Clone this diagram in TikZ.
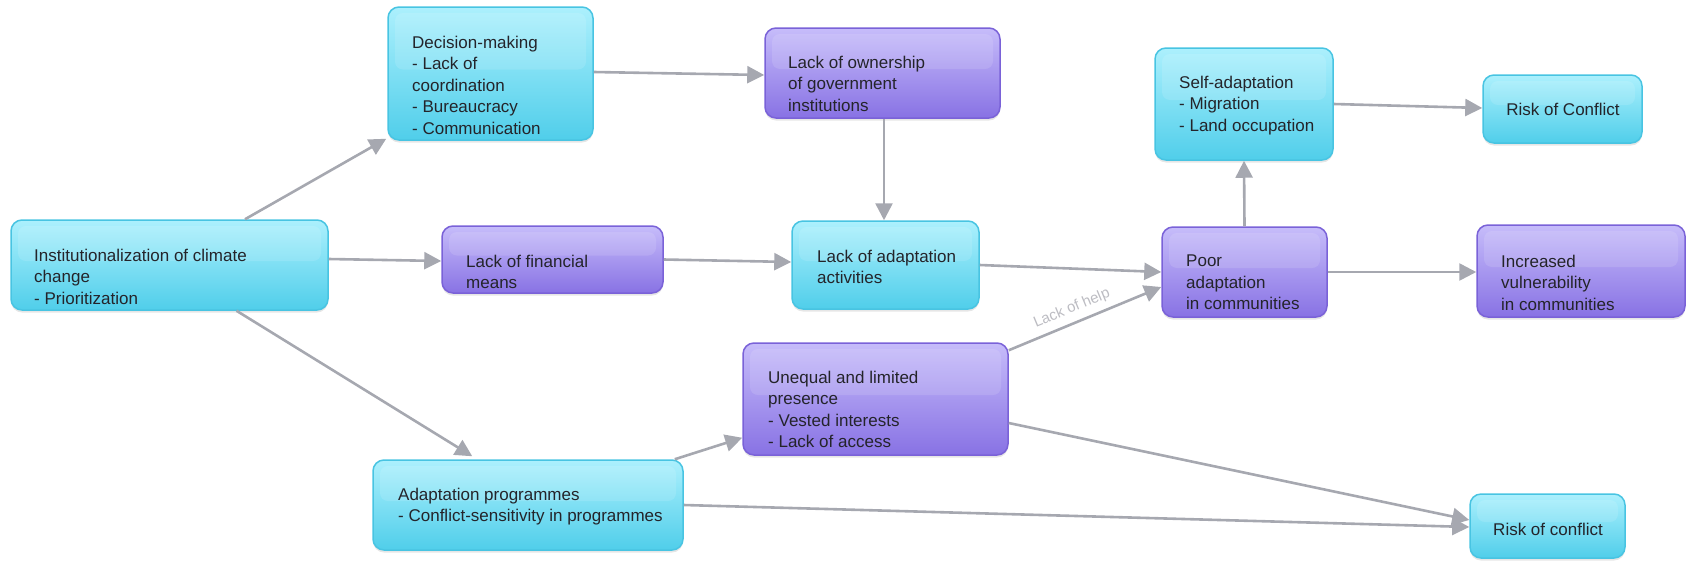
\documentclass[tikz,border=0pt]{standalone}
\usepackage{fontspec}
\setmainfont{Liberation Sans}
\usetikzlibrary{arrows.meta,calc,shadows}

\definecolor{cyTop}{RGB}{172,240,253}
\definecolor{cyBot}{RGB}{80,206,234}
\definecolor{cyLine}{RGB}{72,196,226}
\definecolor{puTop}{RGB}{198,188,250}
\definecolor{puBot}{RGB}{136,114,228}
\definecolor{puLine}{RGB}{122,98,216}
\definecolor{arrowgray}{RGB}{166,168,176}
\definecolor{ink}{RGB}{36,36,42}
\definecolor{helpgray}{RGB}{188,188,194}

\tikzset{
  box/.style={rounded corners=11pt, line width=1.5pt, inner sep=0pt,
    drop shadow={opacity=0.2, shadow xshift=0pt, shadow yshift=-2.5pt},
    path picture={\fill[white, opacity=0.12, rounded corners=8pt]
      ([xshift=7pt,yshift=-6pt]path picture bounding box.north west) rectangle
      ([xshift=-7pt,yshift=4pt]path picture bounding box.east);}},
  cybox/.style={box, draw=cyLine, top color=cyTop, bottom color=cyBot},
  pubox/.style={box, draw=puLine, top color=puTop, bottom color=puBot},
  txt/.style={font=\fontsize{17pt}{21.5pt}\selectfont, align=left,
    inner sep=0pt, text=ink, anchor=north west},
  link/.style={draw=arrowgray, line width=2.6pt,
    -{Triangle[length=17pt,width=17pt]}},
}

\begin{document}
\begin{tikzpicture}[x=1pt, y=-1pt]
\useasboundingbox (0,0) rectangle (1686,563);

% boxes
\node[cybox, minimum width=317pt, minimum height=90pt]  (inst)  at (169.5,265) {};
\node[cybox, minimum width=205pt, minimum height=133pt] (dec)   at (490.5,73.5) {};
\node[pubox, minimum width=235pt, minimum height=90pt]  (own)   at (882.5,73) {};
\node[pubox, minimum width=221pt, minimum height=67pt]  (fin)   at (552.5,259.5) {};
\node[cybox, minimum width=187pt, minimum height=88pt]  (act)   at (885.5,265) {};
\node[pubox, minimum width=165pt, minimum height=90pt]  (poor)  at (1244.5,272) {};
\node[cybox, minimum width=178pt, minimum height=112pt] (self)  at (1244,104) {};
\node[cybox, minimum width=159pt, minimum height=68pt]  (riskA) at (1562.5,109) {};
\node[pubox, minimum width=208pt, minimum height=92pt]  (vuln)  at (1581,271) {};
\node[pubox, minimum width=265pt, minimum height=112pt] (uneq)  at (875.5,399) {};
\node[cybox, minimum width=310pt, minimum height=90pt]  (prog)  at (528,505) {};
\node[cybox, minimum width=155pt, minimum height=64pt]  (riskB) at (1547.5,526) {};

% texts
\node[txt] (inst-t) at (34,248.6)   {Institutionalization of climate\\change\\- Prioritization};
\node[txt] (dec-t)  at (412,35.6)   {Decision-making\\- Lack of\\coordination\\- Bureaucracy\\- Communication};
\node[txt] (own-t)  at (788,55.6)   {Lack of ownership\\of government\\institutions};
\node[txt] (fin-t)  at (466,254.6)  {Lack of financial\\means};
\node[txt] (act-t)  at (817,249.6)  {Lack of adaptation\\activities};
\node[txt] (poor-t) at (1186,254.6) {Poor\\adaptation\\in communities};
\node[txt] (self-t) at (1179,75.6)  {Self-adaptation\\- Migration\\- Land occupation};
\node[txt, anchor=center] (riskA-t) at (1563,109) {Risk of Conflict};
\node[txt] (vuln-t) at (1501,254.6) {Increased\\vulnerability\\in communities};
\node[txt] (uneq-t) at (768,370.6)  {Unequal and limited\\presence\\- Vested interests\\- Lack of access};
\node[txt] (prog-t) at (398,487.6)  {Adaptation programmes\\- Conflict-sensitivity in programmes};
\node[txt, anchor=center] (riskB-t) at (1548,529) {Risk of conflict};

% connectors
\draw[link] ($(inst.north)+(75.5,0)$) -- ($(dec.south west)+(-1,-2)$);
\draw[link] ($(inst.east)+(0,-6)$) -- ($(fin.west)+(0,1.5)$);
\draw[link] ($(inst.south)+(67,0)$) -- ($(prog.north west)+(100,-3)$);
\draw[link] ($(dec.east)+(0,-1.5)$) -- ($(own.west)+(0,2)$);
\draw[link] ($(own.south)+(1.5,0)$) -- ($(act.north)+(-1.5,0)$);
\draw[link] (fin.east) -- ($(act.west)+(0,-3)$);
\draw[link] (act.east) -- (poor.west);
\draw[link] ($(uneq.north east)+(0,8)$) -- ($(poor.west)+(0,15)$)
  node[pos=0.45, sloped, above=6pt, font=\fontsize{15pt}{18pt}\selectfont, text=helpgray, inner sep=0pt] (help) {Lack of help};
\draw[link] (poor.north) -- (self.south);
\draw[link] (self.east) -- ($(riskA.west)+(0,-1)$);
\draw[link] (poor.east) -- ($(vuln.west)+(0,1)$);
\draw[link] ($(uneq.east)+(0,24)$) -- ($(riskB.west)+(0,-6)$);
\draw[link] (prog.east) -- ($(riskB.west)+(0,1)$);
\draw[link] ($(prog.north east)+(-9,0)$) -- ($(uneq.south west)+(0,-18)$);
\end{tikzpicture}
\end{document}
